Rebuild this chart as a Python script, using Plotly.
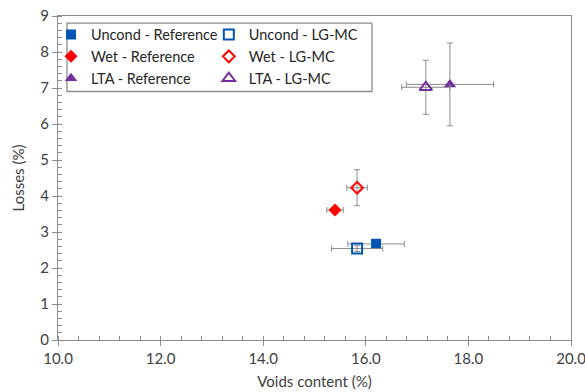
import plotly.graph_objects as go

# Data
names = ["Uncond - Reference", "Uncond - LG-MC", "Wet - Reference", "Wet - LG-MC", "LTA - Reference", "LTA - LG-MC"]
voids = [16.20, 15.83, 15.40, 15.83, 17.64, 17.17]
voids_err = [0.55, 0.50, 0.16, 0.20, 0.85, 0.47]
losses = [2.67, 2.54, 3.61, 4.23, 7.10, 7.02]
losses_err = [0.13, 0.08, 0.10, 0.50, 1.15, 0.75]
colors = ["#0055B4", "#0055B4", "#FF0000", "#FF0000", "#7030A0", "#7030A0"]
symbols = ["square", "square-open", "diamond", "diamond-open", "triangle-up", "triangle-up-open"]
sizes = [10, 10, 10, 9, 11, 11]
x_ticks = [10, 12, 14, 16, 18, 20]
x_labels = ["10.0", "12.0", "14.0", "16.0", "18.0", "20.0"]

fig = go.Figure()
for i, n in enumerate(names):
    filled = i % 2 == 0
    fig.add_trace(go.Scatter(
        x=[voids[i]], y=[losses[i]], mode="markers", name=n,
        legend="legend" if filled else "legend2",
        marker=dict(symbol=symbols[i], size=sizes[i], color=colors[i],
                    line=dict(color=colors[i], width=0 if filled else 2)),
        error_x=dict(type="data", array=[voids_err[i]], color="#8c8c8c", thickness=1, width=3),
        error_y=dict(type="data", array=[losses_err[i]], color="#8c8c8c", thickness=1, width=3),
    ))

axis_common = dict(showline=True, linecolor="#8c8c8c", linewidth=1, mirror=True,
                   showgrid=False, zeroline=False, ticks="outside", ticklen=5,
                   tickcolor="#8c8c8c", ticklabeloverflow="allow",
                   tickfont=dict(family="Lato", size=15, color="#404040"))

fig.update_xaxes(range=[10, 20], tickvals=x_ticks, ticktext=x_labels,
                 minor=dict(dtick=0.4, ticks="inside", ticklen=4, tickcolor="#8c8c8c", showgrid=False),
                 title=dict(text="Voids content (%)", font=dict(family="Lato", size=15, color="#404040"), standoff=10),
                 **axis_common)
fig.update_yaxes(range=[0, 9], dtick=1,
                 minor=dict(dtick=0.2, ticks="inside", ticklen=4, tickcolor="#8c8c8c", showgrid=False),
                 title=dict(text="Losses (%)", font=dict(family="Lato", size=15, color="#404040"), standoff=12),
                 **axis_common)

leg = dict(bgcolor="rgba(0,0,0,0)", borderwidth=0, font=dict(family="Lato", size=14.5, color="#262626"),
           xanchor="left", yanchor="top", tracegroupgap=0, itemwidth=30)
fig.update_layout(
    width=585, height=392,
    margin=dict(l=58, r=14, t=16, b=52, autoexpand=False),
    plot_bgcolor="white", paper_bgcolor="white",
    legend=dict(x=-0.0136, y=0.992, **leg),
    legend2=dict(x=0.294, y=0.992, **leg),
    shapes=[dict(type="rect", xref="paper", yref="paper", x0=0.0175, x1=0.612, y0=0.767, y1=0.978,
                 line=dict(color="#8c8c8c", width=1.3), fillcolor="rgba(0,0,0,0)")],
)

fig.write_html("out.html")
